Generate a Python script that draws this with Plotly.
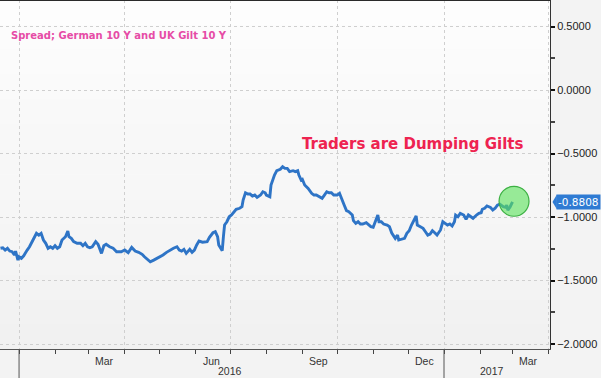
import plotly.graph_objects as go

# ---- data ----
dates = [
    "2015-12-16", "2015-12-18", "2015-12-20", "2015-12-22", "2015-12-24", "2015-12-26", "2015-12-28", "2015-12-29",
    "2015-12-31", "2016-01-01", "2016-01-03", "2016-01-05", "2016-01-08", "2016-01-10", "2016-01-13", "2016-01-16",
    "2016-01-18", "2016-01-20", "2016-01-22", "2016-01-24", "2016-01-26", "2016-01-28", "2016-01-30", "2016-02-01",
    "2016-02-03", "2016-02-05", "2016-02-07", "2016-02-10", "2016-02-12", "2016-02-13", "2016-02-15", "2016-02-17",
    "2016-02-20", "2016-02-23", "2016-02-25", "2016-02-27", "2016-02-29", "2016-03-02", "2016-03-04", "2016-03-07",
    "2016-03-09", "2016-03-12", "2016-03-14", "2016-03-16", "2016-03-19",
    "2016-03-22", "2016-03-25", "2016-03-29", "2016-04-01", "2016-04-04", "2016-04-07", "2016-04-10", "2016-04-13",
    "2016-04-16", "2016-04-18", "2016-04-21", "2016-04-23", "2016-04-26", "2016-04-29", "2016-05-01", "2016-05-04",
    "2016-05-07", "2016-05-10", "2016-05-13", "2016-05-16", "2016-05-18", "2016-05-20", "2016-05-22", "2016-05-24",
    "2016-05-27", "2016-05-29", "2016-05-31", "2016-06-02", "2016-06-04",
    "2016-06-07", "2016-06-11", "2016-06-13", "2016-06-16", "2016-06-18", "2016-06-20", "2016-06-21", "2016-06-24",
    "2016-06-25", "2016-06-26", "2016-06-28", "2016-06-30", "2016-07-02", "2016-07-04", "2016-07-06", "2016-07-09",
    "2016-07-11", "2016-07-12", "2016-07-14", "2016-07-16", "2016-07-18", "2016-07-20", "2016-07-22", "2016-07-24",
    "2016-07-27", "2016-07-29", "2016-07-31", "2016-08-01", "2016-08-04", "2016-08-05", "2016-08-06", "2016-08-08",
    "2016-08-10", "2016-08-13", "2016-08-15", "2016-08-17", "2016-08-19", "2016-08-21", "2016-08-24", "2016-08-26",
    "2016-08-28", "2016-08-29",
    "2016-08-31", "2016-09-01", "2016-09-03", "2016-09-06", "2016-09-09", "2016-09-11", "2016-09-13", "2016-09-16",
    "2016-09-18", "2016-09-20", "2016-09-22", "2016-09-24", "2016-09-26", "2016-09-28", "2016-10-01", "2016-10-03",
    "2016-10-05", "2016-10-07", "2016-10-09", "2016-10-11", "2016-10-14", "2016-10-15", "2016-10-17", "2016-10-19",
    "2016-10-21", "2016-10-23", "2016-10-26", "2016-10-28", "2016-10-30", "2016-11-01", "2016-11-03", "2016-11-05",
    "2016-11-06", "2016-11-08", "2016-11-10", "2016-11-13", "2016-11-15",
    "2016-11-17", "2016-11-20", "2016-11-22", "2016-11-23", "2016-11-26", "2016-11-28", "2016-11-30", "2016-12-02",
    "2016-12-04", "2016-12-06", "2016-12-08", "2016-12-09", "2016-12-11", "2016-12-14", "2016-12-16", "2016-12-18",
    "2016-12-20", "2016-12-22", "2016-12-24", "2016-12-26", "2016-12-29", "2016-12-31", "2017-01-02", "2017-01-04",
    "2017-01-06", "2017-01-08", "2017-01-10", "2017-01-11", "2017-01-13", "2017-01-15", "2017-01-18", "2017-01-20",
    "2017-01-22", "2017-01-24", "2017-01-26", "2017-01-29", "2017-01-31", "2017-02-02", "2017-02-03", "2017-02-05",
    "2017-02-07", "2017-02-10", "2017-02-12", "2017-02-14", "2017-02-16", "2017-02-18", "2017-02-21", "2017-02-23",
    "2017-02-24", "2017-02-25", "2017-02-27", "2017-03-01",
]
spread = [
    -1.246, -1.242, -1.260, -1.246, -1.268, -1.273, -1.299, -1.268,
    -1.339, -1.313, -1.325, -1.305, -1.260, -1.234, -1.181, -1.128,
    -1.142, -1.128, -1.181, -1.207, -1.246, -1.234, -1.246, -1.226,
    -1.246, -1.234, -1.181, -1.155, -1.110, -1.155, -1.168, -1.194,
    -1.207, -1.207, -1.226, -1.207, -1.234, -1.242, -1.234, -1.194,
    -1.215, -1.286, -1.226, -1.215, -1.234,
    -1.246, -1.273, -1.273, -1.260, -1.281, -1.239, -1.268, -1.278,
    -1.294, -1.313, -1.339, -1.352, -1.339, -1.325, -1.313, -1.299,
    -1.278, -1.260, -1.246, -1.234, -1.260, -1.268, -1.254, -1.286,
    -1.254, -1.278, -1.260, -1.220, -1.189,
    -1.198, -1.194, -1.160, -1.124, -1.116, -1.155, -1.220, -1.265,
    -1.155, -1.063, -1.037, -0.998, -0.984, -0.958, -0.939, -0.931,
    -0.919, -0.866, -0.809, -0.819, -0.819, -0.835, -0.827, -0.845,
    -0.827, -0.801, -0.809, -0.827, -0.840, -0.748, -0.722, -0.669,
    -0.635, -0.624, -0.604, -0.617, -0.617, -0.643, -0.635, -0.643,
    -0.635, -0.669,
    -0.709, -0.703, -0.748, -0.774, -0.813, -0.827, -0.827, -0.840,
    -0.853, -0.827, -0.801, -0.809, -0.809, -0.827, -0.827, -0.813,
    -0.853, -0.906, -0.950, -0.958, -0.984, -1.029, -1.050, -1.037,
    -1.055, -1.055, -1.045, -1.063, -1.076, -1.081, -1.037, -0.984,
    -1.037, -1.037, -1.055, -1.063, -1.076,
    -1.126, -1.168, -1.142, -1.181, -1.176, -1.168, -1.128, -1.108,
    -1.063, -1.024, -0.992, -1.063, -1.076, -1.089, -1.116, -1.142,
    -1.134, -1.108, -1.124, -1.142, -1.102, -1.037, -1.050, -1.063,
    -1.055, -1.071, -1.037, -0.984, -0.998, -0.971, -0.984, -1.018,
    -0.984, -0.998, -1.010, -0.984, -0.971, -0.966, -0.939, -0.931,
    -0.913, -0.924, -0.945, -0.931, -0.906, -0.898, -0.919, -0.924,
    -0.906, -0.945, -0.919, -0.8808,
]
last_value = -0.8808

title_text = "Spread; German 10 Y and UK Gilt 10 Y"
callout_text = "Traders are Dumping Gilts"

quarter_starts = ["2016-01-01", "2016-04-01", "2016-07-01", "2016-10-01", "2017-01-01", "2017-04-01"]
month_label_dates = ["2016-03-15", "2016-06-15", "2016-09-15", "2016-12-15", "2017-03-15"]
month_labels = ["Mar", "Jun", "Sep", "Dec", "Mar"]
year_label_dates = ["2016-07-01", "2017-02-11"]
year_labels = ["2016", "2017"]
year_starts = ["2016-01-01", "2017-01-01"]

x_range = ["2015-12-15 14:00", "2017-04-02 07:00"]
y_range = [-2.039, 0.7087]

# circle highlight around the latest readings
circle_x = ["2017-02-17 10:00", "2017-03-15 05:00"]
circle_y = [-0.994, -0.758]

LINE_BLUE = "#2e74c6"

fig = go.Figure()
fig.add_trace(go.Scatter(
    x=dates, y=spread, mode="lines",
    line=dict(color=LINE_BLUE, width=2.9),
    hoverinfo="x+y", showlegend=False,
))

shapes = []
# soft vertical gradient background of the plot area
n_bands = 14
for i in range(n_bands):
    t = i / (n_bands - 1)
    c = int(round(253 - t * 12))
    shapes.append(dict(
        type="rect", xref="paper", yref="paper",
        x0=0, x1=1, y0=1 - (i + 1) / n_bands, y1=1 - i / n_bands,
        fillcolor=f"rgb({c},{c},{c})", line=dict(width=0), layer="below",
    ))
# dark top border
shapes.append(dict(type="line", xref="paper", yref="paper", x0=0, x1=1, y0=1, y1=1,
                   line=dict(color="#2a2a2a", width=2)))
# year separators below axis
for d in year_starts:
    shapes.append(dict(type="line", xref="x", yref="paper", x0=d, x1=d, y0=0, y1=-0.085,
                       line=dict(color="#555555", width=1)))
# green highlight circle
shapes.append(dict(type="circle", xref="x", yref="y",
                   x0=circle_x[0], x1=circle_x[1], y0=circle_y[0], y1=circle_y[1],
                   fillcolor="rgba(92,226,92,0.62)", line=dict(color="#3cb043", width=1.2),
                   layer="above"))
# pointer of the last-value badge
shapes.append(dict(type="path", xref="paper", yref="y",
                   path=f"M 1.0045,{last_value} L 1.0125,{last_value + 0.058} L 1.0125,{last_value - 0.058} Z",
                   fillcolor="#2f7bd3", line=dict(width=0)))

annotations = []
annotations.append(dict(text=f"<b>{title_text}</b>", xref="paper", yref="paper",
                        x=0.0155, y=0.8997, xanchor="left", yanchor="middle", showarrow=False,
                        font=dict(family="DejaVu Sans", size=10, color="#e64ca6")))
annotations.append(dict(text=f"<b>{callout_text}</b>", xref="paper", yref="paper",
                        x=0.546, y=0.5874, xanchor="left", yanchor="middle", showarrow=False,
                        font=dict(family="DejaVu Sans", size=15, color="#ee2350")))
for d, t in zip(month_label_dates, month_labels):
    annotations.append(dict(text=t, xref="x", yref="paper", x=d, y=-0.034,
                            xanchor="center", yanchor="middle", showarrow=False,
                            font=dict(family="Liberation Sans", size=10.5, color="#333333")))
for d, t in zip(year_label_dates, year_labels):
    annotations.append(dict(text=t, xref="x", yref="paper", x=d, y=-0.064,
                            xanchor="center", yanchor="middle", showarrow=False,
                            font=dict(family="Liberation Sans", size=10.5, color="#333333")))
annotations.append(dict(text=f"{last_value:.4f}", xref="paper", yref="y",
                        x=1.0115, y=last_value, xanchor="left", yanchor="middle", showarrow=False,
                        bgcolor="#2f7bd3", borderpad=1,
                        font=dict(family="DejaVu Sans", size=10.5, color="#ffffff")))

fig.update_layout(
    width=601, height=378,
    margin=dict(l=0, r=51, t=0, b=29, autoexpand=False),
    paper_bgcolor="#f3f3f3",
    plot_bgcolor="#f8f8f8",
    shapes=shapes,
    annotations=annotations,
    showlegend=False,
    xaxis=dict(
        type="date", range=x_range, automargin=False,
        tickmode="array", tickvals=quarter_starts, ticktext=[""] * len(quarter_starts),
        ticks="outside", ticklen=4, tickcolor="#444444",
        showgrid=True, gridcolor="#cfcfcf", griddash="dot", gridwidth=1,
        minor=dict(dtick="M1", tick0="2016-01-01", ticks="outside", ticklen=4,
                   tickcolor="#444444", showgrid=False),
        showline=True, linecolor="#555555", linewidth=1,
        zeroline=False, fixedrange=True,
    ),
    yaxis=dict(
        side="right", range=y_range, automargin=False,
        tickmode="linear", tick0=0, dtick=0.5, tickformat=".4f",
        ticks="outside", ticklen=4, tickwidth=2, tickcolor="#111111",
        minor=dict(dtick=0.25, ticks="outside", ticklen=4, tickcolor="#444444", showgrid=False),
        showgrid=True, gridcolor="#cfcfcf", griddash="dot", gridwidth=1,
        showline=True, linecolor="#333333", linewidth=1,
        zeroline=False,
        tickfont=dict(family="Liberation Sans", size=11, color="#222222"),
        fixedrange=True,
    ),
)

fig.write_html(
    "out.html",
    config={"displayModeBar": False},
    post_script="document.body.style.margin='0';document.body.style.overflow='hidden';",
)
